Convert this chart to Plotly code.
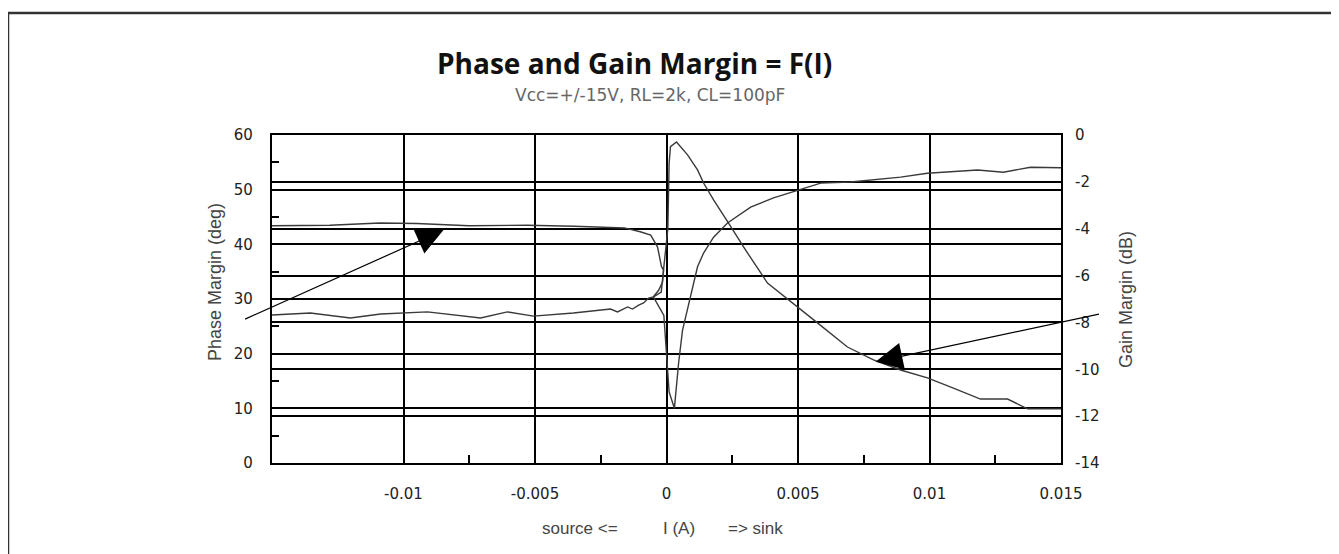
import plotly.graph_objects as go

# ---- data ----
phase_x = [-0.015, -0.0128, -0.0109, -0.0095, -0.0075, -0.0053, -0.0035, -0.0025, -0.0016, -0.0010,
           -0.0006, -0.00034, -0.00019, -0.00011, -0.00015, -0.0003, -0.0005, -0.0001, 0.0, 0.0001,
           0.0003, 0.00046, 0.00061, 0.0008, 0.00099, 0.00118, 0.00141, 0.00179, 0.00232, 0.0032,
           0.00407, 0.00483, 0.00586, 0.007, 0.0089, 0.00992, 0.01183, 0.01281, 0.01384, 0.015]
phase_deg = [43.4, 43.5, 43.9, 43.8, 43.4, 43.5, 43.3, 43.2, 43.0, 42.3,
             41.7, 39.5, 35.9, 35.3, 33.1, 31.6, 30.4, 27.0, 20.0, 13.0,
             10.0, 18.3, 24.3, 28.0, 32.2, 35.9, 38.4, 41.3, 43.9, 46.8,
             48.5, 49.6, 51.2, 51.4, 52.3, 53.0, 53.6, 53.2, 54.1, 54.0]

gain_x = [-0.015, -0.01354, -0.01202, -0.01087, -0.00909, -0.00707, -0.00605, -0.00506, -0.00354, -0.00213,
          -0.00186, -0.00148, -0.00129, -0.00106, -0.00087, -0.00068, -0.00049, -0.0002, 0.00005, 0.0001,
          0.00015, 0.00038, 0.0008, 0.00118, 0.00141, 0.00179, 0.00236, 0.00293, 0.00384, 0.00433,
          0.00498, 0.00574, 0.00688, 0.00787, 0.0089, 0.00992, 0.01091, 0.01194, 0.01297, 0.01373, 0.015]
gain_db = [-7.68, -7.60, -7.81, -7.64, -7.55, -7.81, -7.55, -7.73, -7.60, -7.43,
           -7.55, -7.34, -7.43, -7.26, -7.17, -6.96, -6.91, -6.7, -4.0, -1.2,
           -0.5, -0.3, -0.85, -1.49, -2.05, -2.77, -3.76, -4.78, -6.32, -6.75,
           -7.34, -8.02, -9.05, -9.60, -10.03, -10.37, -10.80, -11.27, -11.27, -11.69, -11.69]

x_ticks = [-0.01, -0.005, 0, 0.005, 0.01, 0.015]
x_ticklabels = ["-0.01", "-0.005", "0", "0.005", "0.01", "0.015"]
x_minor = [-0.0075, -0.0025, 0.0025, 0.0075, 0.0125]
y1_ticks = [0, 10, 20, 30, 40, 50, 60]
y1_minor = [5, 15, 25, 35, 45, 55]
y2_ticks = [-14, -12, -10, -8, -6, -4, -2, 0]
y2_ticklabels = ["-14", "-12", "-10", "-8", "-6", "-4", "-2", "0"]

title_text = "Phase and Gain Margin = F(I)"
subtitle_text = "Vcc=+/-15V, RL=2k, CL=100pF"
xtitle_parts = ["source <=", "I (A)", "=> sink"]
y1_title = "Phase Margin (deg)"
y2_title = "Gain Margin (dB)"

# ---- layout geometry (pixels, in reference screen coordinates) ----
W, H = 1339, 554
OFF = 8  # page body margin
L, R, T, B = 272, 1061, 135, 463
pw, ph = R - L, B - T


def px(xp):
    return (xp - L) / pw


def py(yp):
    return (B - yp) / ph


line_col = "#3a3a3a"

fig = go.Figure()
fig.add_trace(go.Scatter(x=phase_x, y=phase_deg, mode="lines", name="Phase Margin",
                         line=dict(color=line_col, width=1.4), yaxis="y", showlegend=False))
fig.add_trace(go.Scatter(x=gain_x, y=gain_db, mode="lines", name="Gain Margin",
                         line=dict(color=line_col, width=1.4), yaxis="y2", showlegend=False))

tick_font = dict(family="DejaVu Sans, Verdana, sans-serif", size=15, color="#222")

fig.update_layout(
    width=W, height=H,
    margin=dict(l=L - OFF, r=W - (R - OFF), t=T - OFF, b=H - (B - OFF), pad=0),
    paper_bgcolor="white", plot_bgcolor="white",
    xaxis=dict(range=[-0.015, 0.015], tickmode="array", tickvals=x_ticks, ticktext=x_ticklabels,
               showgrid=True, gridcolor="black", gridwidth=1.8, zeroline=False,
               showline=True, linecolor="black", linewidth=2.2, mirror=True,
               ticks="", tickfont=tick_font, ticklabelstandoff=16,
               minor=dict(tickvals=x_minor, ticks="inside", ticklen=8, tickwidth=1.5,
                          tickcolor="black", showgrid=False)),
    yaxis=dict(range=[0, 60], tickmode="array", tickvals=y1_ticks,
               showgrid=True, gridcolor="black", gridwidth=1.8, zeroline=False,
               showline=True, linecolor="black", linewidth=2.2, mirror=True,
               ticks="", tickfont=tick_font, ticklabelstandoff=14,
               minor=dict(tickvals=y1_minor, ticks="inside", ticklen=7, tickwidth=1.5,
                          tickcolor="black", showgrid=False)),
    yaxis2=dict(range=[-14, 0], tickmode="array", tickvals=y2_ticks, ticktext=y2_ticklabels,
                overlaying="y", side="right",
                showgrid=True, gridcolor="black", gridwidth=1.8, zeroline=False,
                showline=False, ticks="", tickfont=tick_font, ticklabelstandoff=13),
)

# outer frame (left, top, right sides)
fig.add_shape(type="path", xref="paper", yref="paper",
              path=f"M {px(8)},{py(600)} L {px(8)},{py(13)} L {px(1336)},{py(13)} L {px(1336)},{py(600)}",
              line=dict(color="#333", width=2.5))

ann_font = "Liberation Sans, Arial, sans-serif"
fig.add_annotation(xref="paper", yref="paper", x=px(634), y=py(63), text=f"<b>{title_text}</b>",
                   showarrow=False, font=dict(family="Open Sans, sans-serif", size=28, color="#111"),
                   xanchor="center", yanchor="middle")
fig.add_annotation(xref="paper", yref="paper", x=px(650), y=py(95), text=subtitle_text,
                   showarrow=False, font=dict(family="DejaVu Sans, sans-serif", size=17, color="#666"),
                   xanchor="center", yanchor="middle")
for txt, cx in zip(xtitle_parts, [580, 679, 755]):
    fig.add_annotation(xref="paper", yref="paper", x=px(cx), y=py(528), text=txt,
                       showarrow=False, font=dict(family=ann_font, size=17, color="#444"),
                       xanchor="center", yanchor="middle")
fig.add_annotation(xref="paper", yref="paper", x=px(215), y=py(282), text=y1_title,
                   textangle=-90, showarrow=False, font=dict(family=ann_font, size=18, color="#444"),
                   xanchor="center", yanchor="middle")
fig.add_annotation(xref="paper", yref="paper", x=px(1126), y=py(300), text=y2_title,
                   textangle=-90, showarrow=False, font=dict(family=ann_font, size=18, color="#444"),
                   xanchor="center", yanchor="middle")

# arrows pointing to the curves
fig.add_annotation(x=-0.00848, y=42.6, xref="x", yref="y", ax=-0.01608, ay=26.2, axref="x", ayref="y",
                   text="", showarrow=True, arrowhead=2, arrowsize=4.5, arrowwidth=1.2, arrowcolor="black")
fig.add_annotation(x=0.00795, y=18.5, xref="x", yref="y", ax=0.0165, ay=27.3, axref="x", ayref="y",
                   text="", showarrow=True, arrowhead=2, arrowsize=4.5, arrowwidth=1.2, arrowcolor="black")

fig.write_html("out.html")
